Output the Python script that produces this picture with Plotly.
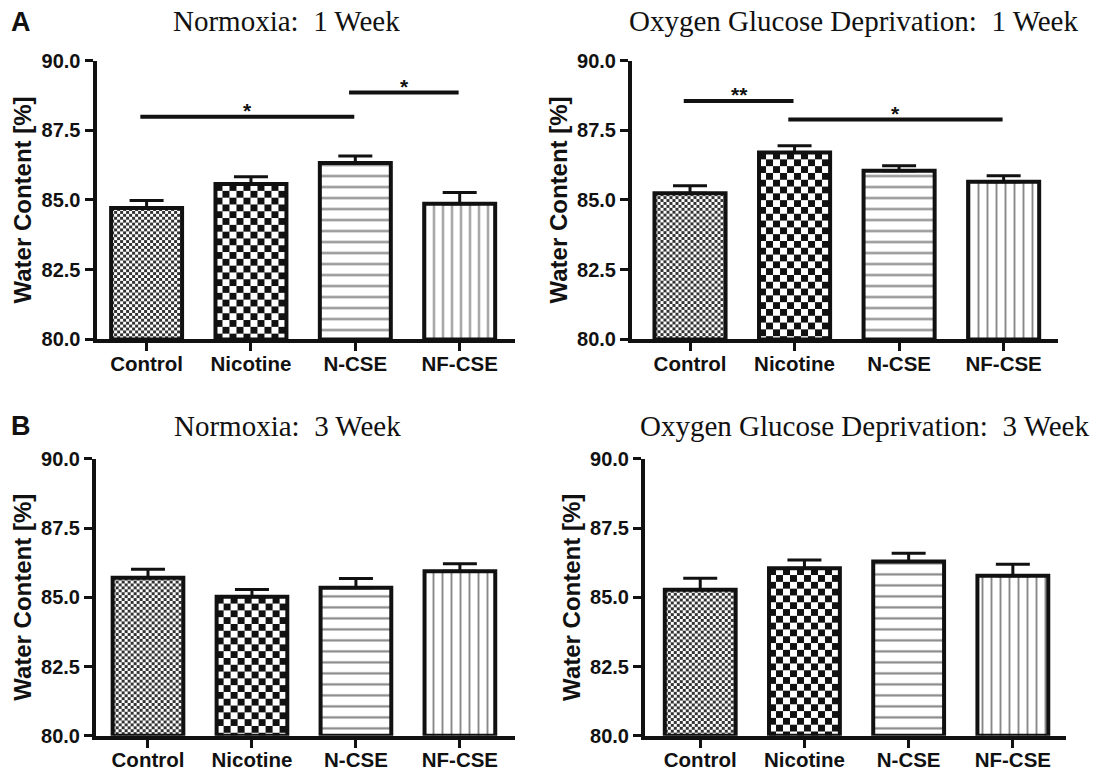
import base64
import plotly.graph_objects as go

# ---------------- data ----------------
categories = ["Control", "Nicotine", "N-CSE", "NF-CSE"]

norm_1wk_mean = [84.71, 85.57, 86.33, 84.86]
norm_1wk_sem = [0.27, 0.26, 0.25, 0.41]
ogd_1wk_mean = [85.24, 86.70, 86.05, 85.65]
ogd_1wk_sem = [0.27, 0.24, 0.18, 0.22]
norm_3wk_mean = [85.71, 85.02, 85.35, 85.94]
norm_3wk_sem = [0.30, 0.26, 0.33, 0.27]
ogd_3wk_mean = [85.27, 86.05, 86.29, 85.78]
ogd_3wk_sem = [0.42, 0.30, 0.30, 0.41]

panel_titles = ["Normoxia:  1 Week", "Oxygen Glucose Deprivation:  1 Week",
                "Normoxia:  3 Week", "Oxygen Glucose Deprivation:  3 Week"]
y_tick_vals = [80.0, 82.5, 85.0, 87.5, 90.0]
y_title = "Water Content [%]"

# significance brackets: (group a, group b, height, label)
sig_norm_1wk = [(0, 2, 87.98, "*"), (2, 3, 88.85, "*")]
sig_ogd_1wk = [(0, 1, 88.55, "**"), (1, 3, 87.89, "*")]
sig_norm_3wk = []
sig_ogd_3wk = []

# ---------------- layout / style ----------------
FW, FH = 1098, 773
BAR_W = 0.68
Y0, Y1 = 80.0, 90.0
SANS = "Liberation Sans, Arial, sans-serif"
SERIF = "Liberation Serif, Times New Roman, serif"
INK = "#111"

# (x_left_px, x_right_px, y_top_px, y_bottom_px, x_range)
panel_px = [
    (96.5, 515, 51, 338, (-0.48, 3.53)),
    (632, 1058, 51, 338, (-0.555, 3.52)),
    (96, 515, 461, 746, (-0.5, 3.53)),
    (645, 1066, 461, 746, (-0.53, 3.51)),
]
title_pos = [(286, 10), (853, 10), (287, 427), (864, 427)]
letters = [("A", 21, 11), ("B", 21, 427)]

means = [norm_1wk_mean, ogd_1wk_mean, norm_3wk_mean, ogd_3wk_mean]
sems = [norm_1wk_sem, ogd_1wk_sem, norm_3wk_sem, ogd_3wk_sem]
sigs = [sig_norm_1wk, sig_ogd_1wk, sig_norm_3wk, sig_ogd_3wk]

# fill styles per category: checker (cell px, colour) or plotly stripe pattern
checker_cells = [3, 7, None, None]
checker_color = ["#333", "#111", None, None]
pattern_shapes = ["", "", "-", "|"]
pattern_sizes = [8, 8, 11, 9]
pattern_solid = [0.2, 0.2, 0.2, 0.21]


def checker_svg(w, h, c, col):
    svg = (
        f"<svg xmlns='http://www.w3.org/2000/svg' width='{w:.1f}' height='{h:.1f}' "
        f"viewBox='0 0 {w:.1f} {h:.1f}' preserveAspectRatio='none'>"
        f"<defs><pattern id='p' x='0' y='0' width='{2*c}' height='{2*c}' patternUnits='userSpaceOnUse'>"
        f"<rect width='{2*c}' height='{2*c}' fill='white'/>"
        f"<rect width='{c}' height='{c}' fill='{col}'/>"
        f"<rect x='{c}' y='{c}' width='{c}' height='{c}' fill='{col}'/>"
        f"</pattern></defs><rect width='{w:.1f}' height='{h:.1f}' fill='url(#p)'/></svg>"
    )
    return "data:image/svg+xml;base64," + base64.b64encode(svg.encode()).decode()


fig = go.Figure()
images = []
annotations = []
xs = list(range(len(categories)))

for k in range(4):
    xl, xr, yt, yb, xrng = panel_px[k]
    sfx = "" if k == 0 else str(k + 1)
    xa, ya = "x" + sfx, "y" + sfx
    px_per_cat = (xr - xl) / (xrng[1] - xrng[0])
    px_per_unit = (yb - yt) / (Y1 - Y0)

    for i in xs:
        v = means[k][i]
        c = checker_cells[i]
        if c:
            marker = dict(color="rgba(0,0,0,0)", line=dict(color=INK, width=4))
        else:
            marker = dict(
                color="white", line=dict(color=INK, width=4),
                pattern=dict(shape=pattern_shapes[i], size=pattern_sizes[i],
                             solidity=pattern_solid[i], fgcolor="#111",
                             bgcolor="white", fillmode="overlay"),
            )
        fig.add_trace(go.Bar(
            x=[i], y=[v - Y0], base=Y0, width=BAR_W,
            xaxis=xa, yaxis=ya, marker=marker,
            error_y=dict(type="data", array=[sems[k][i]], arrayminus=[0],
                         symmetric=False, color=INK, thickness=3, width=17),
            showlegend=False, hoverinfo="skip", name=categories[i],
        ))
        if c:
            wpx = BAR_W * px_per_cat
            hpx = (v - Y0) * px_per_unit
            images.append(dict(
                source=checker_svg(wpx, hpx, c, checker_color[i]), xref=xa, yref=ya,
                x=i - BAR_W / 2, y=v, sizex=BAR_W, sizey=v - Y0,
                xanchor="left", yanchor="top", sizing="stretch", layer="below",
            ))

    for (a, b, h, lab) in sigs[k]:
        fig.add_trace(go.Scatter(
            x=[a - 0.06, b - 0.01], y=[h, h], mode="lines",
            line=dict(color=INK, width=4), xaxis=xa, yaxis=ya,
            showlegend=False, hoverinfo="skip",
        ))
        annotations.append(dict(
            x=(a + b) / 2 - 0.03, y=h, xref=xa, yref=ya, text=lab,
            showarrow=False, yanchor="middle", yshift=6,
            font=dict(family=SANS, size=21, color=INK, weight="bold"),
        ))

    axis_common = dict(showgrid=False, zeroline=False, showline=True,
                       linecolor=INK, linewidth=4, ticks="outside",
                       tickcolor=INK, tickwidth=3)
    fig.layout[("xaxis" + sfx)] = dict(
        **axis_common, domain=[xl / FW, xr / FW], range=list(xrng),
        anchor=ya, tickvals=xs, ticktext=categories, ticklen=8,
        ticklabelstandoff=-5,
        tickfont=dict(family=SANS, size=20.5, color=INK, weight="bold"),
    )
    fig.layout[("yaxis" + sfx)] = dict(
        **axis_common, domain=[1 - yb / FH, 1 - yt / FH], range=[Y0, Y1],
        anchor=xa, tickvals=y_tick_vals,
        ticktext=[f"{t:.1f}" for t in y_tick_vals], ticklen=8,
        tickfont=dict(family=SANS, size=20, color=INK, weight="bold"),
        title=dict(text=y_title, standoff=4,
                   font=dict(family=SANS, size=24, color=INK, weight="bold")),
    )

for k in range(4):
    tx, ty = title_pos[k]
    annotations.append(dict(
        x=tx / FW, y=1 - ty / FH, xref="paper", yref="paper", text=panel_titles[k],
        showarrow=False, xanchor="center", yanchor="middle",
        font=dict(family=SERIF, size=29, color=INK),
    ))
for (lab, lx, ly) in letters:
    annotations.append(dict(
        x=lx / FW, y=1 - ly / FH, xref="paper", yref="paper", text=lab,
        showarrow=False, xanchor="center", yanchor="middle",
        font=dict(family=SANS, size=27, color=INK, weight="bold"),
    ))

fig.update_layout(
    width=FW, height=FH, margin=dict(l=0, r=0, t=0, b=0),
    paper_bgcolor="white", plot_bgcolor="white",
    images=images, annotations=annotations, barmode="overlay",
)

fig.write_html(
    "out.html",
    config={"displayModeBar": False},
    post_script="document.body.style.margin='0';document.body.style.overflow='hidden';",
)
